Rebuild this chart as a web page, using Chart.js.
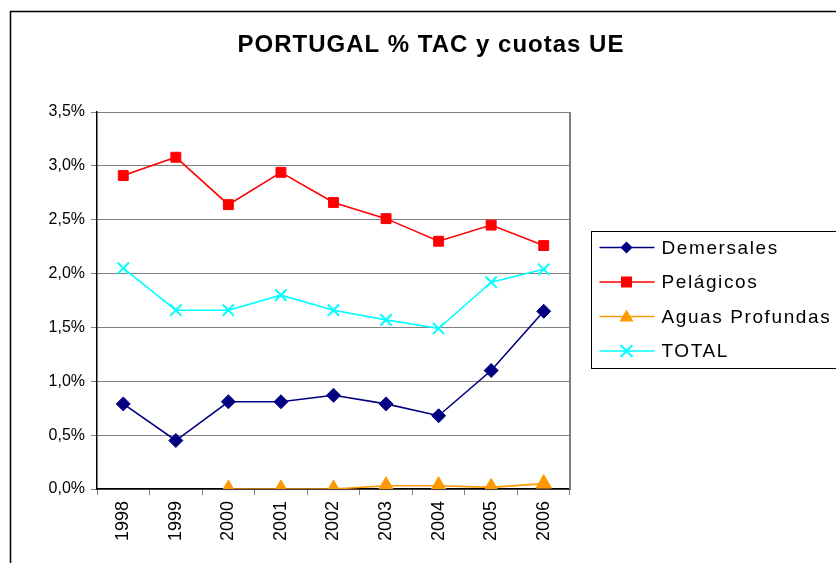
<!DOCTYPE html>
<html lang="es">
<head>
  <meta charset="UTF-8">
  <title>PORTUGAL % TAC y cuotas UE</title>
  <script src="https://cdn.jsdelivr.net/npm/chart.js"></script>
  <style>
    html, body { margin: 0; padding: 0; background: #fff; }
  </style>
</head>
<body>
  <canvas id="myChart" width="836" height="563"></canvas>

  <script>
    // Datos (porcentaje)
    const years = ['1998', '1999', '2000', '2001', '2002', '2003', '2004', '2005', '2006'];
    const demersales = [0.79, 0.45, 0.81, 0.81, 0.87, 0.79, 0.68, 1.10, 1.65];
    const pelagicos = [2.91, 3.08, 2.64, 2.94, 2.66, 2.51, 2.30, 2.45, 2.26];
    const aguasProfundas = [null, null, 0.0, 0.0, 0.0, 0.03, 0.03, 0.015, 0.05];
    const total = [2.05, 1.66, 1.66, 1.80, 1.66, 1.57, 1.49, 1.92, 2.04];
    const yTicks = [0, 0.5, 1, 1.5, 2, 2.5, 3, 3.5];
    const chartTitle = 'PORTUGAL % TAC y cuotas UE';

    const FONT = 'Liberation Sans, Arial, sans-serif';

    // Marco exterior, titulo y leyenda con recuadro
    const framePlugin = {
      id: 'frame',
      afterDraw(chart) {
        const ctx = chart.ctx;
        ctx.save();
        ctx.strokeStyle = '#000';
        ctx.lineWidth = 1.5;
        ctx.strokeRect(10.5, 11.5, 900, 600);

        // titulo
        ctx.fillStyle = '#000';
        ctx.font = 'bold 24px ' + FONT;
        ctx.letterSpacing = '1px';
        ctx.textAlign = 'center';
        ctx.textBaseline = 'middle';
        ctx.fillText(chartTitle, 431, 45);

        // leyenda
        const lx = 591.5, ly = 231.5, lw = 260, lh = 137;
        ctx.lineWidth = 1;
        ctx.strokeStyle = '#000';
        ctx.strokeRect(lx, ly, lw, lh);
        ctx.font = '19px ' + FONT;
        ctx.letterSpacing = '1.6px';
        ctx.textBaseline = 'middle';
        ctx.textAlign = 'left';
        chart.data.datasets.forEach((ds, i) => {
          const y = ly + 16 + i * 34.5;
          ctx.strokeStyle = ds.borderColor;
          ctx.lineWidth = 1.5;
          ctx.beginPath();
          ctx.moveTo(lx + 8, y);
          ctx.lineTo(lx + 63, y);
          ctx.stroke();
          const cx = lx + 35;
          ctx.fillStyle = ds.pointBackgroundColor;
          ctx.strokeStyle = ds.pointBorderColor;
          const style = ds.pointStyle;
          ctx.beginPath();
          if (style === 'rectRot') {
            ctx.moveTo(cx, y - 6); ctx.lineTo(cx + 6, y); ctx.lineTo(cx, y + 6); ctx.lineTo(cx - 6, y);
            ctx.closePath(); ctx.fill();
          } else if (style === 'rect') {
            ctx.rect(cx - 5.5, y - 5.5, 11, 11); ctx.fill();
          } else if (style === 'triangle') {
            ctx.moveTo(cx, y - 7); ctx.lineTo(cx + 7, y + 5); ctx.lineTo(cx - 7, y + 5);
            ctx.closePath(); ctx.fill();
          } else {
            ctx.lineWidth = 2;
            ctx.moveTo(cx - 6, y - 6); ctx.lineTo(cx + 6, y + 6);
            ctx.moveTo(cx + 6, y - 6); ctx.lineTo(cx - 6, y + 6);
            ctx.stroke();
          }
          ctx.fillStyle = '#000';
          ctx.fillText(ds.label, lx + 70, y + 1);
        });
        ctx.letterSpacing = '0px';
        ctx.restore();
      }
    };

    function makeSet(label, data, color, pointStyle, radius) {
      return {
        label: label,
        data: data,
        borderColor: color,
        backgroundColor: color,
        pointBackgroundColor: color,
        pointBorderColor: color,
        pointStyle: pointStyle,
        pointRadius: radius,
        pointBorderWidth: pointStyle === 'crossRot' ? 2 : 1,
        borderWidth: 1.6,
        tension: 0,
        spanGaps: false
      };
    }

    const canvas = document.getElementById('myChart');
    const ctx = canvas.getContext('2d');

    const myChart = new Chart(ctx, {
      type: 'line',
      data: {
        labels: years,
        datasets: [
          makeSet('Demersales', demersales, '#000080', 'rectRot', 7),
          makeSet('Pelágicos', pelagicos, '#ff0000', 'rect', 7),
          makeSet('Aguas Profundas', aguasProfundas, '#ff9900', 'triangle', 9),
          makeSet('TOTAL', total, '#00ffff', 'crossRot', 8)
        ]
      },
      options: {
        responsive: false,
        animation: false,
        layout: { padding: { left: 10, right: 266, top: 112, bottom: 0 } },
        plugins: {
          legend: { display: false },
          tooltip: { enabled: false },
          title: { display: false }
        },
        scales: {
          x: {
            offset: true,
            grid: {
              display: true,
              drawOnChartArea: false,
              offset: true,
              tickLength: 6,
              color: '#808080'
            },
            border: { color: '#000', width: 1.5 },
            ticks: {
              color: '#000',
              font: { family: FONT, size: 18 },
              minRotation: 90,
              maxRotation: 90,
              padding: 6
            },
            afterFit(scale) { scale.height = 74; }
          },
          y: {
            min: 0,
            max: 3.5,
            afterBuildTicks(scale) {
              scale.ticks = yTicks.map(v => ({ value: v }));
            },
            grid: {
              color: '#808080',
              lineWidth: 1,
              tickLength: 6,
              drawTicks: true
            },
            border: { color: '#000', width: 1.5 },
            ticks: {
              color: '#000',
              font: { family: FONT, size: 16 },
              padding: 6,
              callback: v => v.toFixed(1).replace('.', ',') + '%'
            },
            afterFit(scale) { scale.width = 87; }
          }
        }
      },
      plugins: [framePlugin, {
        id: 'rightBorder',
        afterDatasetsDraw(chart) {
          const a = chart.chartArea;
          const c = chart.ctx;
          c.save();
          c.strokeStyle = '#808080';
          c.lineWidth = 2;
          c.beginPath();
          c.moveTo(a.right, a.top);
          c.lineTo(a.right, a.bottom);
          c.stroke();
          c.restore();
        }
      }]
    });
  </script>
</body>
</html>
